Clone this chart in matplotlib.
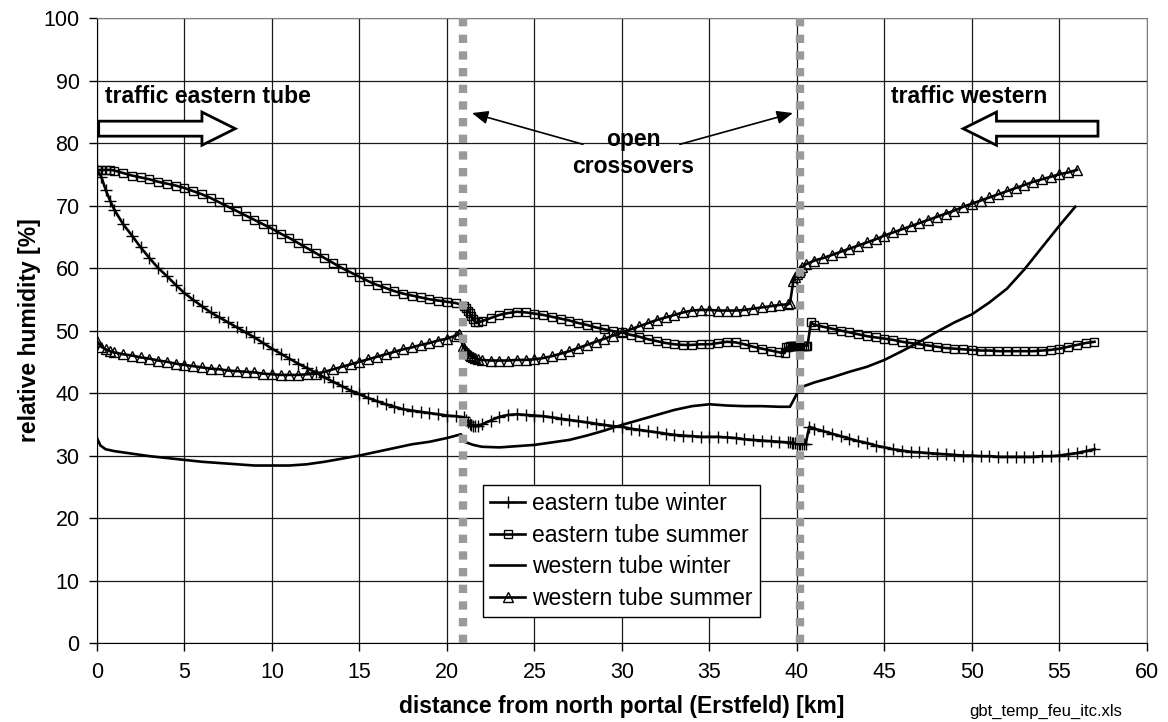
"""
Relative humidity along the tunnel, eastern and western tube, winter and summer.
"""
import matplotlib
matplotlib.use("Agg")
import matplotlib.pyplot as plt
from matplotlib.patches import FancyArrow

plt.rcParams["font.family"] = ["Liberation Sans", "DejaVu Sans"]

# ── data ─────────────────────────────────────────────────────────────────────
ES_KM = [0.0, 0.25, 0.5, 0.75, 1.0, 1.5, 2.0, 2.5, 3.0, 3.5, 4.0, 4.5, 5.0, 5.5,
         6.0, 6.5, 7.0, 7.5, 8.0, 8.5, 9.0, 9.5, 10.0, 10.5, 11.0, 11.5, 12.0,
         12.5, 13.0, 13.5, 14.0, 14.5, 15.0, 15.5, 16.0, 16.5, 17.0, 17.5, 18.0,
         18.5, 19.0, 19.5, 20.0, 20.5, 21.0, 21.1, 21.2, 21.3, 21.4, 21.5, 21.6,
         21.8, 22.0, 22.5, 23.0, 23.5, 24.0, 24.5, 25.0, 25.5, 26.0, 26.5, 27.0,
         27.5, 28.0, 28.5, 29.0, 29.5, 30.0, 30.5, 31.0, 31.5, 32.0, 32.5, 33.0,
         33.5, 34.0, 34.5, 35.0, 35.5, 36.0, 36.5, 37.0, 37.5, 38.0, 38.5, 39.0,
         39.3, 39.4, 39.5, 39.6, 39.7, 39.8, 39.9, 40.0, 40.1, 40.2, 40.3, 40.4,
         40.5, 40.6, 40.8, 41.0, 41.5, 42.0, 42.5, 43.0, 43.5, 44.0, 44.5, 45.0,
         45.5, 46.0, 46.5, 47.0, 47.5, 48.0, 48.5, 49.0, 49.5, 50.0, 50.5, 51.0,
         51.5, 52.0, 52.5, 53.0, 53.5, 54.0, 54.5, 55.0, 55.5, 56.0, 56.5, 57.0]
ES_RH = [75.7, 75.7, 75.7, 75.7, 75.6, 75.2, 74.8, 74.5, 74.2, 73.8, 73.5, 73.2,
         72.8, 72.3, 71.8, 71.2, 70.5, 69.8, 69.1, 68.4, 67.7, 67.0, 66.3, 65.5,
         64.8, 64.0, 63.2, 62.4, 61.6, 60.8, 60.0, 59.3, 58.6, 57.9, 57.3, 56.8,
         56.3, 55.9, 55.6, 55.3, 55.0, 54.8, 54.6, 54.4, 54.0, 53.6, 53.2, 52.8,
         52.3, 51.8, 51.4, 51.3, 51.5, 52.0, 52.5, 52.8, 53.0, 52.9, 52.7, 52.5,
         52.2, 51.9, 51.6, 51.2, 50.9, 50.5, 50.2, 49.9, 49.7, 49.3, 49.0, 48.6,
         48.3, 48.0, 47.8, 47.7, 47.7, 47.8, 47.8, 48.0, 48.2, 48.1, 47.8, 47.4,
         47.1, 46.8, 46.5, 46.4, 47.3, 47.4, 47.5, 47.5, 47.5, 47.5, 47.5, 47.5,
         47.5, 47.5, 47.5, 47.6, 47.6, 51.3, 50.9, 50.6, 50.3, 50.0, 49.7, 49.4,
         49.1, 48.9, 48.7, 48.5, 48.2, 48.0, 47.8, 47.6, 47.4, 47.2, 47.1, 47.0,
         46.9, 46.8, 46.8, 46.7, 46.7, 46.7, 46.7, 46.7, 46.8, 46.9, 47.1, 47.4,
         47.7, 48.0, 48.2]

EW_KM = [0.0, 0.25, 0.5, 0.75, 1.0, 1.5, 2.0, 2.5, 3.0, 3.5, 4.0, 4.5, 5.0, 5.5,
         6.0, 6.5, 7.0, 7.5, 8.0, 8.5, 9.0, 9.5, 10.0, 10.5, 11.0, 11.5, 12.0,
         12.5, 13.0, 13.5, 14.0, 14.5, 15.0, 15.5, 16.0, 16.5, 17.0, 17.5, 18.0,
         18.5, 19.0, 19.5, 20.0, 20.5, 21.0, 21.1, 21.2, 21.3, 21.4, 21.5, 21.6,
         21.8, 22.0, 22.5, 23.0, 23.5, 24.0, 24.5, 25.0, 25.5, 26.0, 26.5, 27.0,
         27.5, 28.0, 28.5, 29.0, 29.5, 30.0, 30.5, 31.0, 31.5, 32.0, 32.5, 33.0,
         33.5, 34.0, 34.5, 35.0, 35.5, 36.0, 36.5, 37.0, 37.5, 38.0, 38.5, 39.0,
         39.5, 39.6, 39.7, 39.8, 39.9, 40.0, 40.1, 40.2, 40.3, 40.4, 40.5, 40.7,
         41.0, 41.5, 42.0, 42.5, 43.0, 43.5, 44.0, 44.5, 45.0, 45.5, 46.0, 46.5,
         47.0, 47.5, 48.0, 48.5, 49.0, 49.5, 50.0, 50.5, 51.0, 51.5, 52.0, 52.5,
         53.0, 53.5, 54.0, 54.5, 55.0, 55.5, 56.0, 56.5, 57.0]
EW_RH = [75.7, 74.6, 72.5, 70.8, 69.3, 67.0, 65.2, 63.3, 61.6, 60.0, 58.7, 57.3,
         56.0, 54.9, 53.9, 52.9, 52.1, 51.3, 50.5, 49.7, 48.9, 48.0, 47.1, 46.3,
         45.5, 44.7, 44.0, 43.3, 42.5, 41.8, 41.1, 40.4, 39.8, 39.2, 38.7, 38.2,
         37.8, 37.4, 37.2, 37.0, 36.8, 36.6, 36.4, 36.3, 36.1, 35.7, 35.4, 35.1,
         34.9, 34.8, 34.7, 34.8, 35.0, 35.6, 36.2, 36.5, 36.6, 36.5, 36.4, 36.3,
         36.1, 35.9, 35.7, 35.5, 35.3, 35.1, 34.9, 34.7, 34.6, 34.3, 34.1, 33.9,
         33.7, 33.5, 33.3, 33.2, 33.1, 33.0, 33.0, 33.0, 32.9, 32.8, 32.6, 32.5,
         32.4, 32.3, 32.2, 32.1, 32.1, 32.0, 32.0, 32.0, 32.0, 31.9, 31.9, 31.9,
         31.9, 31.9, 34.6, 34.3, 33.9, 33.5, 33.1, 32.7, 32.3, 32.0, 31.6, 31.3,
         31.0, 30.8, 30.6, 30.5, 30.4, 30.3, 30.2, 30.1, 30.0, 30.0, 29.9, 29.9,
         29.8, 29.8, 29.8, 29.8, 29.8, 29.9, 29.9, 30.0, 30.2, 30.4, 30.7, 31.0]

WW_KM = [0.0, 0.2, 0.5, 1.0, 2.0, 3.0, 4.0, 5.0, 6.0, 7.0, 8.0, 9.0, 10.0, 11.0,
         12.0, 13.0, 14.0, 15.0, 16.0, 17.0, 18.0, 19.0, 20.0, 20.8, 21.0, 21.5,
         22.0, 23.0, 24.0, 25.0, 26.0, 27.0, 28.0, 29.0, 30.0, 31.0, 32.0, 33.0,
         34.0, 35.0, 36.0, 37.0, 38.0, 39.0, 39.6, 40.0, 40.2, 41.0, 42.0, 43.0,
         44.0, 45.0, 46.0, 47.0, 48.0, 49.0, 50.0, 51.0, 52.0, 53.0, 54.0, 55.0,
         55.9]
WW_RH = [32.8, 31.6, 31.0, 30.7, 30.3, 29.9, 29.6, 29.3, 29.0, 28.8, 28.6, 28.4,
         28.4, 28.4, 28.6, 29.0, 29.5, 30.0, 30.6, 31.2, 31.8, 32.2, 32.8, 33.4,
         32.2, 31.7, 31.4, 31.3, 31.5, 31.7, 32.1, 32.5, 33.2, 34.0, 34.9, 35.7,
         36.5, 37.3, 37.9, 38.2, 38.0, 37.9, 37.9, 37.8, 37.8, 39.9, 40.9, 41.7,
         42.5, 43.4, 44.2, 45.3, 46.7, 48.2, 49.8, 51.3, 52.6, 54.5, 56.7, 59.8,
         63.3, 66.8, 69.8]

WS_KM = [0.0, 0.25, 0.5, 0.75, 1.0, 1.5, 2.0, 2.5, 3.0, 3.5, 4.0, 4.5, 5.0, 5.5,
         6.0, 6.5, 7.0, 7.5, 8.0, 8.5, 9.0, 9.5, 10.0, 10.5, 11.0, 11.5, 12.0,
         12.5, 13.0, 13.5, 14.0, 14.5, 15.0, 15.5, 16.0, 16.5, 17.0, 17.5, 18.0,
         18.5, 19.0, 19.5, 20.0, 20.5, 20.7, 20.9, 21.0, 21.1, 21.2, 21.3, 21.4,
         21.5, 21.6, 21.8, 22.0, 22.5, 23.0, 23.5, 24.0, 24.5, 25.0, 25.5, 26.0,
         26.5, 27.0, 27.5, 28.0, 28.5, 29.0, 29.5, 30.0, 30.5, 31.0, 31.5, 32.0,
         32.5, 33.0, 33.5, 34.0, 34.5, 35.0, 35.5, 36.0, 36.5, 37.0, 37.5, 38.0,
         38.5, 39.0, 39.5, 39.6, 39.8, 39.9, 40.0, 40.1, 40.2, 40.3, 40.5, 41.0,
         41.5, 42.0, 42.5, 43.0, 43.5, 44.0, 44.5, 45.0, 45.5, 46.0, 46.5, 47.0,
         47.5, 48.0, 48.5, 49.0, 49.5, 50.0, 50.5, 51.0, 51.5, 52.0, 52.5, 53.0,
         53.5, 54.0, 54.5, 55.0, 55.5, 56.0]
WS_RH = [48.3, 47.4, 47.0, 46.7, 46.5, 46.2, 46.0, 45.7, 45.5, 45.2, 45.0, 44.7,
         44.5, 44.3, 44.1, 43.9, 43.8, 43.6, 43.5, 43.4, 43.3, 43.1, 43.0, 42.9,
         42.9, 42.9, 43.0, 43.1, 43.4, 43.8, 44.2, 44.6, 45.0, 45.4, 45.8, 46.2,
         46.6, 47.0, 47.3, 47.7, 48.0, 48.4, 48.7, 49.2, 49.5, 47.6, 47.1, 46.7,
         46.4, 46.1, 45.9, 45.7, 45.6, 45.4, 45.3, 45.2, 45.2, 45.2, 45.3, 45.3,
         45.4, 45.6, 45.9, 46.3, 46.7, 47.2, 47.7, 48.2, 48.7, 49.2, 49.7, 50.2,
         50.7, 51.2, 51.7, 52.1, 52.5, 52.9, 53.2, 53.3, 53.3, 53.2, 53.2, 53.2,
         53.3, 53.5, 53.7, 53.9, 54.1, 54.2, 54.4, 58.0, 58.6, 59.0, 59.4, 59.7,
         60.1, 60.6, 61.2, 61.6, 62.1, 62.6, 63.1, 63.6, 64.1, 64.6, 65.2, 65.7,
         66.2, 66.7, 67.2, 67.7, 68.2, 68.7, 69.2, 69.8, 70.3, 70.8, 71.3, 71.8,
         72.3, 72.8, 73.3, 73.8, 74.2, 74.6, 75.0, 75.3, 75.7]

CROSSOVERS_KM = [20.9, 40.2]

# ── figure ───────────────────────────────────────────────────────────────────
fig = plt.figure(figsize=(11.68, 7.22), dpi=100)
fig.patch.set_facecolor("white")
ax = fig.add_axes([0.083, 0.1094, 0.899, 0.8656])

line_kw = dict(color="black", linewidth=1.9, markeredgewidth=1.0)
ax.plot(EW_KM, EW_RH, marker="+", markersize=8.5, label="eastern tube winter", **line_kw)
ax.plot(ES_KM, ES_RH, marker="s", markersize=6.3, markerfacecolor="none",
        label="eastern tube summer", **line_kw)
ax.plot(WW_KM, WW_RH, label="western tube winter", **line_kw)
ax.plot(WS_KM, WS_RH, marker="^", markersize=7.3, markerfacecolor="none",
        label="western tube summer", **line_kw)

for xc in CROSSOVERS_KM:
    ax.axvline(xc, color="#9a9a9a", linewidth=6, linestyle=(0, (1, 1)), zorder=5)

# axes styling
ax.set_xlim(0, 60)
ax.set_ylim(0, 100)
ax.set_xticks(range(0, 61, 5))
ax.set_yticks(range(0, 101, 10))
ax.set_axisbelow(True)
ax.grid(True, color="#1a1a1a", linewidth=0.9)
for side in ("top", "right"):
    ax.spines[side].set_color("#808080")
for side in ("left", "bottom"):
    ax.spines[side].set_color("black")
ax.tick_params(axis="both", direction="out", length=5.5, width=1,
               labelsize=15.5, colors="black")
ax.tick_params(axis="x", pad=8)
ax.tick_params(axis="y", pad=7)

ax.set_xlabel("distance from north portal (Erstfeld) [km]", fontsize=16.5,
              fontweight="bold", labelpad=9)
ax.set_ylabel("relative humidity [%]", fontsize=16.5, fontweight="bold", labelpad=2)

# traffic direction arrows
arrow_kw = dict(width=2.4, head_width=5.3, head_length=1.9, length_includes_head=True,
                facecolor="white", edgecolor="black", linewidth=2.0, zorder=6)
ax.add_patch(FancyArrow(0.1, 82.3, 7.8, 0, **arrow_kw))
ax.add_patch(FancyArrow(57.2, 82.3, -7.7, 0, **arrow_kw))
ax.text(0.45, 87.4, "traffic eastern tube", fontsize=16.5, fontweight="bold",
        ha="left", va="center", zorder=6)
ax.text(45.4, 87.4, "traffic western", fontsize=16.5, fontweight="bold",
        ha="left", va="center", zorder=6)

# open crossovers label with pointers
ax.text(30.63, 78.4, "open\ncrossovers", fontsize=16.5, fontweight="bold",
        ha="center", va="center", multialignment="center", zorder=6)
arr = dict(arrowstyle="-|>,head_length=0.6,head_width=0.25", color="black",
           linewidth=1.2, mutation_scale=16, shrinkA=0, shrinkB=0)
ax.annotate("", xy=(21.43, 84.8), xytext=(27.77, 79.8), arrowprops=arr, zorder=6)
ax.annotate("", xy=(39.77, 84.8), xytext=(33.31, 79.8), arrowprops=arr, zorder=6)

leg = ax.legend(loc="lower left", bbox_to_anchor=(0.3676, 0.0416), borderaxespad=0,
                fontsize=16.5, frameon=True, fancybox=False, framealpha=1,
                edgecolor="black", borderpad=0.3, labelspacing=0.38,
                handlelength=1.55, handletextpad=0.3, numpoints=1)
leg.get_frame().set_linewidth(1.0)
leg.set_zorder(7)

fig.text(1122 / 1168, 1 - 716 / 722, "gbt_temp_feu_itc.xls", fontsize=12,
         ha="right", va="baseline")

fig.savefig("out.png", dpi=100, facecolor="white")
